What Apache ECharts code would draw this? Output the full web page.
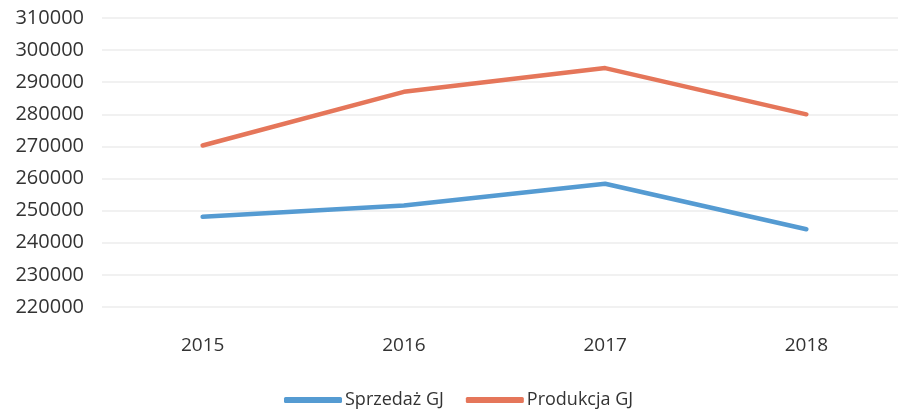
<!DOCTYPE html>
<html>
<head>
    <meta charset="utf-8"/>
    <script src="https://cdn.jsdelivr.net/npm/echarts@6/dist/echarts.min.js"></script>
    <style>
        html, body { margin: 0; padding: 0; background: #fff; overflow: hidden; }
        /* plot area runs a bit past the right edge, as in the scan */
        #chart { width: 910px; height: 412px; }
    </style>
</head>
<body>
<div id="chart"></div>
<script>
    var lata = ['2015', '2016', '2017', '2018'];
    var sprzedaz = [248100, 251600, 258400, 244200];
    var produkcja = [270300, 287000, 294400, 280000];
    var nazwy = ['Sprzedaż GJ', 'Produkcja GJ'];

    var myChart = echarts.init(document.getElementById('chart'));
    var option = {
        animation: false,
        color: ['#559bd2', '#e5765a'],
        textStyle: { fontFamily: 'Open Sans' },
        grid: {
            left: 102,
            right: 3,
            top: 18,
            bottom: 105
        },
        legend: {
            left: 279,
            top: 386,
            icon: 'roundRect',
            itemWidth: 58,
            itemHeight: 6,
            itemGap: 22,
            textStyle: { fontSize: 18, color: '#333', padding: [0, 0, 0, -2] },
            data: nazwy
        },
        xAxis: {
            type: 'category',
            data: lata,
            axisLine: { show: false },
            axisTick: { show: false },
            axisLabel: { margin: 29, fontSize: 19, color: '#333' }
        },
        yAxis: {
            type: 'value',
            min: 220000,
            max: 310000,
            interval: 10000,
            axisLine: { show: false },
            axisTick: { show: false },
            axisLabel: {
                margin: 18,
                fontSize: 20,
                color: '#333',
                formatter: function (v) { return String(v); }
            },
            splitLine: { lineStyle: { color: '#ececec', width: 1.5 } }
        },
        series: [
            {
                name: nazwy[0],
                type: 'line',
                data: sprzedaz,
                symbol: 'none',
                lineStyle: { width: 4.5, cap: 'round', join: 'round' }
            },
            {
                name: nazwy[1],
                type: 'line',
                data: produkcja,
                symbol: 'none',
                lineStyle: { width: 4.5, cap: 'round', join: 'round' }
            }
        ]
    };
    myChart.setOption(option);
</script>
</body>
</html>
